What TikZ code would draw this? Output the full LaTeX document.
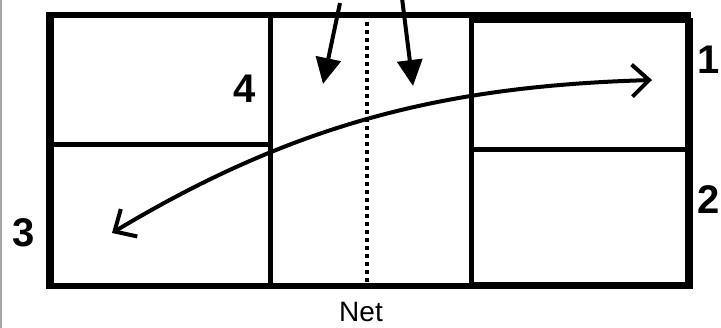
\documentclass[tikz,border=0pt]{standalone}
\usepackage{fontspec}
\setmainfont{Liberation Sans}
\usetikzlibrary{arrows.meta}

\tikzset{
  wall/.style={line width=5pt},
  heavywall/.style={line width=7.5pt},
  digit/.style={font=\fontsize{40}{40}\selectfont\bfseries, inner sep=0pt},
  flow/.style={line width=4pt, -{Triangle[length=26pt,width=25pt]}},
}

\begin{document}
\begin{tikzpicture}[x=1pt, y=-1pt]
\useasboundingbox (0,0) rectangle (721,328);

% Page edge
\draw[gray!70, line width=1.5pt] (1,0) -- (1,328);

% Outer frame
\draw[wall, line width=5.5pt] (48,15) -- (691,15);
\draw[wall, line width=6pt] (48,286) -- (691,286);
\draw[heavywall] (50,12) -- (50,289);
\draw[wall] (270,15) -- (270,286);
\draw[wall] (50,145) -- (270,145);

% Right court box
\draw[wall] (471,21) rectangle (687,285);
\draw[wall] (471,150) -- (687,150);
\draw[heavywall] (689,18) -- (689,289);

% Net
\draw[line width=4.5pt, dash pattern=on 4pt off 4pt] (367,22) -- (367,285);
\node (net) at (361,312) {\fontsize{28}{28}\selectfont Net};

% Labels
\node[digit] (one) at (709,60) {1};
\node[digit] (two) at (709,200) {2};
\node[digit] (three) at (24,233) {3};
\node[digit] (four) at (245,89) {4};

% Incoming arrows
\coordinate (inA) at (340,3);
\coordinate (outA) at (323,84);
\coordinate (inB) at (402,-2);
\coordinate (outB) at (413,86);
\draw[flow] (inA) -- (outA);
\draw[flow] (inB) -- (outB);

% Cross-court curve
\coordinate (tipR) at (652,80);
\coordinate (tipL) at (112,233);
\draw[line width=4pt, {Straight Barb[length=17pt,width=32pt]}-{Straight Barb[length=17pt,width=32pt]}]
  (tipL) .. controls (300,120) and (452,86) .. (tipR);

\end{tikzpicture}
\end{document}
